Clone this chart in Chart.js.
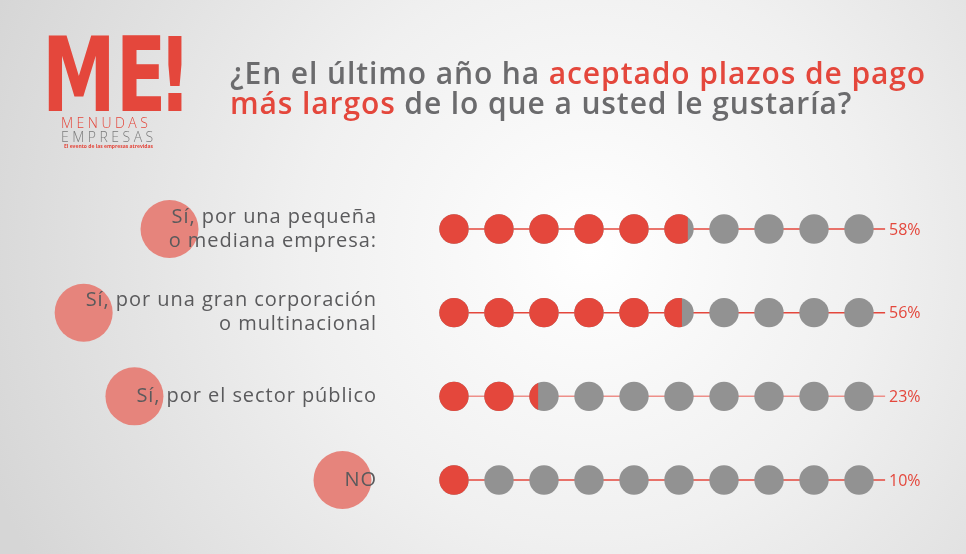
<!DOCTYPE html>
<html>
<head>
<meta charset="utf-8">
<title>Plazos de pago</title>
<script src="https://cdn.jsdelivr.net/npm/chart.js@4.4.0/dist/chart.umd.min.js"></script>
<style>
  body { margin: 0; background: #dcdcdc; }
  #wrap { width: 966px; height: 554px; }
</style>
</head>
<body>
<div id="wrap"><canvas id="dotChart" width="966" height="554"></canvas></div>
<script>
// answers (left labels), one entry per row
var categories = [
  ["Sí, por una pequeña", "o mediana empresa:"],
  ["Sí, por una gran corporación", "o multinacional"],
  ["Sí, por el sector público"],
  ["NO"]
];
// share of answers, percent
var percentages = [58, 56, 23, 10];
// ten dots per row, each dot = 10%
var dotSlots = [0, 1, 2, 3, 4, 5, 6, 7, 8, 9];

var titleLine1 = [["¿En el último año ha ", "gray"], ["aceptado plazos de pago", "red"]];
var titleLine2 = [["más largos", "red"], [" de lo que a usted le gustaría?", "gray"]];

var RED = "#e4473c";
var GRAY = "#929292";
var TEXT_GRAY = "#6b6b6d";
var PINK = "#e6847c";
var DOT_R = 14.7;

var datasets = [];
for (var r = 0; r < categories.length; r++) {
  // connecting line behind the dots
  datasets.push({
    label: "line" + r,
    data: [{ x: 0, y: r }, { x: dotSlots.length - 0.42, y: r }],
    showLine: true,
    borderColor: r == 2 ? "#ee8f89" : RED,
    borderWidth: 1.5,
    pointRadius: 0,
    order: 2
  });
  var pts = [];
  for (var i = 0; i < dotSlots.length; i++) {
    pts.push({ x: dotSlots[i], y: r });
  }
  datasets.push({
    label: "dots" + r,
    row: r,
    data: pts,
    showLine: false,
    pointRadius: DOT_R,
    pointBorderWidth: 0,
    pointBackgroundColor: GRAY,
    order: 1
  });
}

// background, logo, title and labels
var decorPlugin = {
  id: "decor",
  beforeDraw: function(chart) {
    var ctx = chart.ctx;
    ctx.save();
    var g = ctx.createRadialGradient(590, 250, 0, 590, 250, 640);
    g.addColorStop(0, "#ffffff");
    g.addColorStop(0.45, "#f0f0f0");
    g.addColorStop(1, "#d6d6d6");
    ctx.fillStyle = g;
    ctx.fillRect(0, 0, chart.width, chart.height);
    ctx.restore();
  },
  beforeDatasetsDraw: function(chart) {
    var ctx = chart.ctx;
    var yScale = chart.scales.y;
    ctx.save();

    // logo
    ctx.fillStyle = RED;
    ctx.textBaseline = "alphabetic";
    ctx.font = "bold 103px 'DejaVu Sans'";
    ctx.save();
    ctx.translate(42, 111);
    ctx.scale(0.72, 1);
    ctx.fillText("ME", 0, 0);
    ctx.restore();
    ctx.save();
    ctx.translate(158, 111);
    ctx.scale(0.72, 1);
    ctx.fillText("!", 0, 0);
    ctx.restore();

    ctx.font = "300 14px 'Open Sans'";
    ctx.letterSpacing = "3.5px";
    ctx.fillStyle = RED;
    ctx.fillText("MENUDAS", 61, 128);
    ctx.fillStyle = "#7a7a7a";
    ctx.fillText("EMPRESAS", 61, 142);
    ctx.letterSpacing = "0px";
    ctx.font = "bold 5px 'Open Sans'";
    ctx.fillStyle = RED;
    ctx.fillText("El evento de las empresas atrevidas", 64, 148);

    // title
    ctx.font = "600 30px 'Open Sans'";
    ctx.letterSpacing = "0.9px";
    var lines = [[titleLine1, 84], [titleLine2, 114]];
    for (var l = 0; l < lines.length; l++) {
      var x = 230;
      var parts = lines[l][0];
      for (var p = 0; p < parts.length; p++) {
        ctx.fillStyle = parts[p][1] == "red" ? RED : TEXT_GRAY;
        ctx.fillText(parts[p][0], x, lines[l][1]);
        x += ctx.measureText(parts[p][0]).width;
      }
    }

    // row labels with pink circles
    ctx.font = "400 20px 'Open Sans'";
    ctx.letterSpacing = "0.95px";
    for (var r = 0; r < categories.length; r++) {
      var cy = yScale.getPixelForValue(r);
      var txt = categories[r];
      var w = ctx.measureText(txt[0]).width;
      ctx.fillStyle = PINK;
      ctx.beginPath();
      ctx.arc(377 - w - 2, cy, 29, 0, Math.PI * 2);
      ctx.fill();
      ctx.fillStyle = "#5a5a5c";
      ctx.textAlign = "right";
      ctx.textBaseline = "middle";
      var top = cy - (txt.length - 1) * 12;
      for (var k = 0; k < txt.length; k++) {
        ctx.fillText(txt[k], 377, top + k * 24);
      }
      ctx.textAlign = "left";
      ctx.textBaseline = "alphabetic";
    }
    ctx.letterSpacing = "0px";
    ctx.restore();
  },
  afterDatasetsDraw: function(chart) {
    var ctx = chart.ctx;
    ctx.save();
    chart.data.datasets.forEach(function(ds, di) {
      if (ds.row === undefined) return;
      var meta = chart.getDatasetMeta(di);
      var filled = percentages[ds.row] / 10;
      meta.data.forEach(function(pt, i) {
        var f = Math.max(0, Math.min(1, filled - i));
        if (f <= 0) return;
        ctx.save();
        ctx.beginPath();
        ctx.arc(pt.x, pt.y, DOT_R, 0, Math.PI * 2);
        ctx.clip();
        ctx.fillStyle = RED;
        ctx.fillRect(pt.x - DOT_R - 1, pt.y - DOT_R - 1, (DOT_R * 2) * f + 1, DOT_R * 2 + 2);
        ctx.restore();
      });
      // percent label
      var last = meta.data[meta.data.length - 1];
      ctx.fillStyle = RED;
      ctx.font = "400 16px 'Open Sans'";
      ctx.textBaseline = "middle";
      ctx.fillText(percentages[ds.row] + "%", last.x + 30, last.y + 1);
    });
    ctx.restore();
  }
};

var chart = new Chart(document.getElementById("dotChart"), {
  type: "scatter",
  data: { datasets: datasets },
  options: {
    responsive: false,
    animation: false,
    events: [],
    layout: { padding: 0, autoPadding: false },
    plugins: { legend: { display: false }, tooltip: { enabled: false } },
    scales: {
      x: { type: "linear", display: false, min: -454 / 45, max: (966 - 454) / 45 },
      y: { type: "linear", display: false, reverse: true, min: -229 / 83.67, max: (554 - 229) / 83.67 }
    }
  },
  plugins: [decorPlugin]
});
</script>
</body>
</html>
